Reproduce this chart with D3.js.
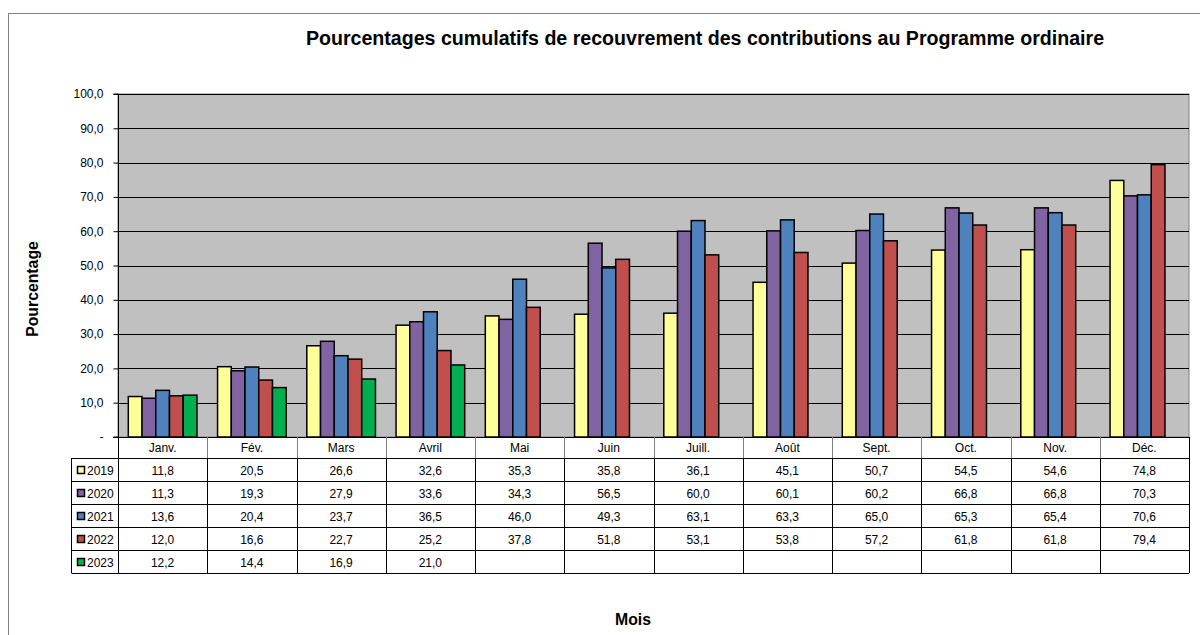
<!DOCTYPE html>
<html><head><meta charset="utf-8">
<script src="https://cdn.jsdelivr.net/npm/d3@7/dist/d3.min.js"></script>
<style>body{margin:0;background:#fff}svg{display:block;font-family:"Liberation Sans",Arial,sans-serif}</style>
</head><body><svg id="c" width="1200" height="635"></svg>
<script>
const months = ["Janv.","Fév.","Mars","Avril","Mai","Juin","Juill.","Août","Sept.","Oct.","Nov.","Déc."];
const seriesNames = ["2019","2020","2021","2022","2023"];
const seriesColors = ["#FFFF99","#8064A2","#4F81BD","#C0504D","#00B050"];
const v2019 = [11.8,20.5,26.6,32.6,35.3,35.8,36.1,45.1,50.7,54.5,54.6,74.8];
const v2020 = [11.3,19.3,27.9,33.6,34.3,56.5,60.0,60.1,60.2,66.8,66.8,70.3];
const v2021 = [13.6,20.4,23.7,36.5,46.0,49.3,63.1,63.3,65.0,65.3,65.4,70.6];
const v2022 = [12.0,16.6,22.7,25.2,37.8,51.8,53.1,53.8,57.2,61.8,61.8,79.4];
const v2023 = [12.2,14.4,16.9,21.0,null,null,null,null,null,null,null,null];
const yTicks = [0,10,20,30,40,50,60,70,80,90,100];
const series = [v2019,v2020,v2021,v2022,v2023];

const svg = d3.select("#c");
const L = 118, R = 1189, T = 94, B = 437;
const fmt = v => v===0 ? "-" : v.toFixed(1).replace(".", ",");

// outer frame
svg.append("rect").attr("x",8.5).attr("y",13.5).attr("width",1200).attr("height",640)
  .attr("fill","#fff").attr("stroke","#808080").attr("stroke-width",1);

const x = d3.scaleBand().domain(months).range([L,R]).paddingInner(0).paddingOuter(0);
const xs = d3.scaleBand().domain(seriesNames).range([0,x.bandwidth()]).paddingInner(0).paddingOuter(0.75);
const y = d3.scaleLinear().domain([0,100]).range([B,T]);

// plot bg
svg.append("rect").attr("x",L).attr("y",T).attr("width",R-L).attr("height",B-T)
  .attr("fill","#C0C0C0").attr("stroke","#808080");

// gridlines
svg.append("g").selectAll("line").data(yTicks.filter(d=>d>0)).join("line")
  .attr("x1",L).attr("x2",R).attr("y1",d=>Math.round(y(d))+0.5).attr("y2",d=>Math.round(y(d))+0.5)
  .attr("stroke","#000").attr("stroke-width",1);

// y axis
const ya = svg.append("g").attr("transform",`translate(${L+0.5},0)`)
  .call(d3.axisLeft(y).tickValues(yTicks).tickFormat(fmt).tickSize(5).tickPadding(10));
ya.select(".domain").attr("stroke","#000").attr("d",`M-5,${B}H0V${T}H-5`);
ya.selectAll(".tick line").attr("stroke","#000");
ya.selectAll(".tick text").attr("font-size",12).attr("fill","#000")
  .attr("font-family","'Liberation Sans',Arial,sans-serif");

// bars
const g = svg.append("g");
series.forEach((vals,si)=>{
  g.append("g").selectAll("rect").data(vals.map((v,i)=>({m:months[i],v}))).join("rect")
    .filter(d=>d.v!=null)
    .attr("x",d=>x(d.m)+xs(seriesNames[si]))
    .attr("width",xs.bandwidth())
    .attr("y",d=>y(d.v)).attr("height",d=>B-y(d.v))
    .attr("fill",seriesColors[si]).attr("stroke","#000").attr("stroke-width",1.5);
});
// baseline
svg.append("line").attr("x1",L-5).attr("x2",R).attr("y1",B+0.5).attr("y2",B+0.5).attr("stroke","#000");

// data table
const rowH = 23, hdrTop = B, hdrH = 21, legL = 71;
const tg = svg.append("g").attr("font-size",12).attr("fill","#000");
months.forEach(m=>{
  tg.append("text").attr("x",x(m)+x.bandwidth()/2).attr("y",hdrTop+15).attr("text-anchor","middle").text(m);
});
x.domain().concat(["_end"]).forEach((m,i)=>{
  const xx = i<12 ? x(m) : R;
  svg.append("line").attr("x1",Math.round(xx)+0.5).attr("x2",Math.round(xx)+0.5)
    .attr("y1",hdrTop).attr("y2",hdrTop+hdrH).attr("stroke", i==0||i==12?"#000":"#808080");
});
const rowsTop = hdrTop+hdrH;
seriesNames.forEach((s,si)=>{
  const ry = rowsTop + si*rowH;
  series[si].forEach((v,i)=>{
    if(v!=null) tg.append("text").attr("x",x(months[i])+x.bandwidth()/2).attr("y",ry+16.5)
      .attr("text-anchor","middle").text(fmt(v));
  });
  tg.append("rect").attr("x",legL+6.5).attr("y",ry+8.5).attr("width",7).attr("height",7)
    .attr("fill",seriesColors[si]).attr("stroke","#000").attr("stroke-width",1.5);
  tg.append("text").attr("x",legL+16).attr("y",ry+16.5).text(s);
});
const tl = svg.append("g").attr("stroke","#000").attr("stroke-width",1);
for(let k=0;k<=5;k++){
  const yy = Math.round(rowsTop+k*rowH)+0.5;
  tl.append("line").attr("x1",legL+0.5).attr("x2",R).attr("y1",yy).attr("y2",yy);
}
[legL].concat(months.map(m=>x(m))).concat([R]).forEach(xx=>{
  tl.append("line").attr("x1",Math.round(xx)+0.5).attr("x2",Math.round(xx)+0.5)
    .attr("y1",rowsTop).attr("y2",rowsTop+5*rowH);
});

// titles
svg.append("text").attr("x",705).attr("y",45).attr("text-anchor","middle")
  .attr("font-size",19.6).attr("font-weight","bold")
  .text("Pourcentages cumulatifs de recouvrement des contributions au Programme ordinaire");
svg.append("text").attr("transform","translate(38,289) rotate(-90)").attr("text-anchor","middle")
  .attr("font-size",15.8).attr("font-weight","bold").text("Pourcentage");
svg.append("text").attr("x",633).attr("y",625).attr("text-anchor","middle")
  .attr("font-size",15.8).attr("font-weight","bold").text("Mois");
</script></body></html>
